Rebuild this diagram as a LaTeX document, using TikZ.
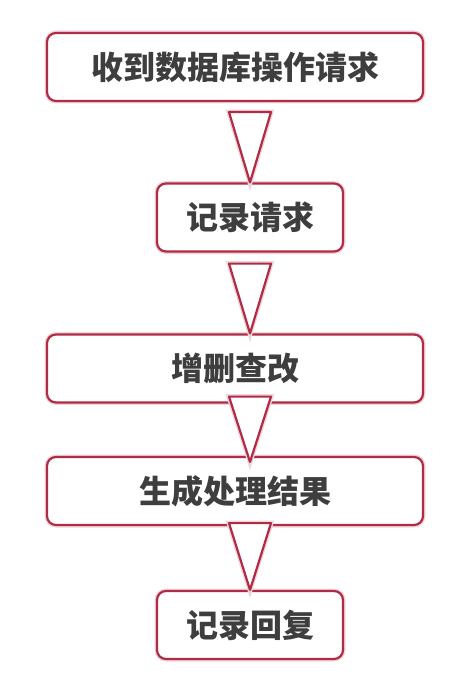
\documentclass[tikz,border=0pt]{standalone}
\usepackage{fontspec}
\newfontfamily\cjk{Noto Sans CJK SC}
\usetikzlibrary{positioning,calc}
\definecolor{boxred}{RGB}{176,44,70}
\definecolor{txtgray}{RGB}{62,62,62}
\tikzset{
  stepbox/.style={draw=boxred, line width=2.2pt, rounded corners=9pt, fill=white,
    preaction={draw=boxred!20, line width=5pt},
    minimum height=68pt, inner sep=0pt, text=txtgray,
    font=\cjk\bfseries\fontsize{32}{32}\selectfont},
  widebox/.style={stepbox, minimum width=376pt},
  smallbox/.style={stepbox, minimum width=186pt},
  arrowtri/.style={draw=boxred, line width=2.2pt, fill=white, line join=round,
    preaction={draw=boxred!20, line width=5pt}}
}
\begin{document}
\begin{tikzpicture}[x=1pt,y=1pt]
\useasboundingbox (0,0) rectangle (451,-676);
\node[widebox] (recv) at (235,-67) {收到数据库操作请求};
\node[smallbox] (logreq) at (250,-217.5) {记录请求};
\node[widebox] (crud) at (235,-368.5) {增删查改};
\node[widebox] (result) at (235,-491) {生成处理结果};
\node[smallbox] (logresp) at (250,-625) {记录回复};
% arrows
\draw[arrowtri] ([yshift=-10]recv.south -| logreq.north) ++(-21,0) -- ++(42,0) -- (logreq.north) -- cycle;
\draw[arrowtri] ([yshift=-11]logreq.south) ++(-21,0) -- ++(42,0) -- (crud.north -| logreq.north) -- cycle;
\draw[arrowtri] ([yshift=7]crud.south -| logreq.north) ++(-21,0) -- ++(42,0) -- ([yshift=-6]result.north -| logreq.north) -- cycle;
\draw[arrowtri] ([yshift=3]result.south -| logresp.north) ++(-21,0) -- ++(42,0) -- (logresp.north) -- cycle;
\end{tikzpicture}
\end{document}
